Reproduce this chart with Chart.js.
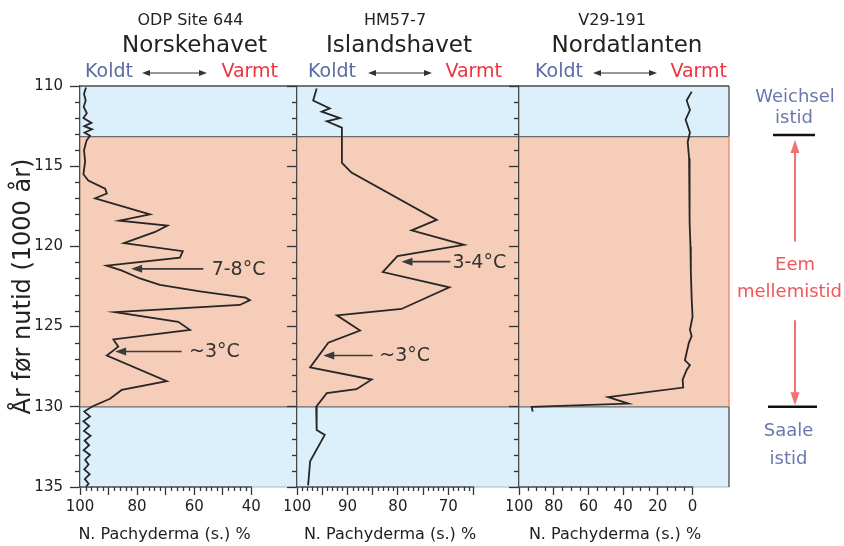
<!DOCTYPE html>
<html><head><meta charset="utf-8">
<script src="https://cdn.jsdelivr.net/npm/chart.js"></script>
<style>
html,body{margin:0;padding:0;background:#fff;width:844px;height:546px;overflow:hidden;position:relative}
canvas{position:absolute;top:0}
</style></head><body>
<canvas id="c1" width="300" height="546" style="left:0px"></canvas>
<canvas id="c2" width="237" height="546" style="left:285px"></canvas>
<canvas id="c3" width="337" height="546" style="left:507px"></canvas>
<script>
// ---------- data ----------
const siteNames = ['ODP Site 644', 'HM57-7', 'V29-191'];
const seaNames = ['Norskehavet', 'Islandshavet', 'Nordatlanten'];
const xTitle = 'N. Pachyderma (s.) %';
const ageTicks = [110, 115, 120, 125, 130, 135];
const stageEdges = [110, 113.15, 130, 135];

// ODP Site 644 – Norskehavet
const norAge = [110.1,110.5,110.9,111.3,111.7,112.0,112.3,112.5,112.7,112.9,113.1,113.4,114.0,114.7,115.5,115.9,116.4,116.7,117.0,118.0,118.4,118.7,119.1,119.8,120.3,120.7,121.2,121.5,122.0,122.4,122.8,123.2,123.35,123.65,124.1,124.7,125.2,125.8,126.25,126.8,128.4,128.95,129.5,130.0,130.3,130.6,130.9,131.2,131.5,131.8,132.1,132.4,132.7,133.0,133.3,133.6,133.9,134.2,134.5,134.8,135.0];
const norVal = [97.9,98.6,98.0,98.7,97.6,98.8,96.0,98.5,95.8,98.4,96.5,97.7,98.6,98.2,98.8,97.1,91.2,90.6,94.7,75.5,86.2,69.4,73.7,84.6,64.0,65.0,90.7,85.5,79.0,72.0,58.0,42.0,40.5,44.0,87.7,65.6,61.5,88.3,86.6,90.6,69.6,85.4,89.5,95.9,98.5,96.5,98.8,96.8,98.6,96.3,98.4,96.8,98.7,96.5,98.2,97.0,98.5,96.6,98.3,97.0,98.0];
const norTicks = [100, 80, 60, 40];

// HM57-7 – Islandshavet
const islAge = [110.15,110.9,111.4,111.6,112.0,112.2,112.6,113.15,114.8,115.4,118.35,119.0,119.9,120.6,121.6,122.55,123.9,124.3,125.25,126.0,127.55,128.3,128.9,129.15,130.0,131.45,131.75,133.4,134.9];
const islVal = [96.1,96.8,93.5,95.1,91.5,94.1,91.1,91.1,91.1,89.2,72.3,77.3,66.9,80.1,83.0,69.8,79.3,92.1,87.5,93.8,97.4,85.2,88.2,94.1,96.2,96.1,94.5,97.4,97.8];
const islTicks = [100, 90, 80, 70];

// V29-191 – Nordatlanten
const atlAge = [110.35,110.9,111.5,112.1,112.9,113.5,114.5,115.5,117.0,118.5,120.0,121.5,123.3,124.4,125.2,125.6,126.0,127.1,127.4,127.7,128.3,128.8,129.4,129.8,130.0,130.3];
const atlVal = [0.5,3.4,1.5,4.0,1.5,2.8,2.0,1.8,1.5,1.8,1.2,1.0,0.5,0.0,1.5,0.5,2.1,4.4,1.5,3.4,5.7,5.4,48.6,37.0,92.7,92.1];
const atlTicks = [100, 80, 60, 40, 20, 0];

// temperature notes (value / age of the arrows)
const norNotes = [
  {label: '7-8°C', age: 121.4, head: 82.1, tail: 56.8, text: 53.9},
  {label: '~3°C', age: 126.55, head: 87.7, tail: 64.4, text: 61.8}
];
const islNotes = [
  {label: '3-4°C', age: 120.95, head: 79.3, tail: 69.6, text: 69.2},
  {label: '~3°C', age: 126.8, head: 94.8, tail: 85.0, text: 83.7}
];

// ---------- styles ----------
const FONT = '"DejaVu Sans", sans-serif';
Chart.defaults.font.family = FONT;
Chart.defaults.color = '#222';
const bandColors = ['#dcf0fb', '#f6cdb8', '#dcf0fb'];
const frameColor = '#4a4a4a';
const tickCol = '#333';
const cold = '#5a6ca6', warm = '#ee3340';

const isMajor = (v, step) => Math.abs(v / step - Math.round(v / step)) < 1e-6;

const deco = {
  id: 'deco',
  beforeDraw(chart) {
    const {ctx, chartArea: a, scales: {y}} = chart;
    ctx.save();
    for (let i = 0; i < stageEdges.length - 1; i++) {
      const t = y.getPixelForValue(stageEdges[i]), b = y.getPixelForValue(stageEdges[i + 1]);
      ctx.fillStyle = bandColors[i];
      ctx.fillRect(a.left, t, a.right - a.left, b - t);
    }
    ctx.strokeStyle = '#6a6a6a'; ctx.lineWidth = 1.2;
    for (let i = 1; i < stageEdges.length - 1; i++) {
      const p = y.getPixelForValue(stageEdges[i]);
      ctx.beginPath(); ctx.moveTo(a.left, p); ctx.lineTo(a.right, p); ctx.stroke();
    }
    ctx.restore();
  },
  afterDraw(chart) {
    const cfg = panelCfg[chart.canvas.id];
    const {ctx, chartArea: a, scales: {x, y}} = chart;
    ctx.save();
    // bottom axis line only over the ticked range, faint edge beyond
    const xa = x.getPixelForValue(100), xb = x.getPixelForValue(cfg.tickEnd);
    ctx.strokeStyle = '#a8b6bf'; ctx.lineWidth = 1;
    ctx.beginPath(); ctx.moveTo(xb, a.bottom); ctx.lineTo(a.right, a.bottom); ctx.stroke();
    ctx.strokeStyle = frameColor; ctx.lineWidth = 1.3;
    ctx.beginPath(); ctx.moveTo(xa - 0.6, a.bottom); ctx.lineTo(xb + 0.6, a.bottom); ctx.stroke();
    // minor tick marks (short), on the library's own tick positions
    ctx.strokeStyle = tickCol; ctx.lineWidth = 1.3;
    y.ticks.forEach((t, i) => {
      if (ageTicks.includes(t.value)) return;
      const p = Math.round(y.getPixelForTick(i)) + 0.5;
      ctx.beginPath(); ctx.moveTo(y.right - 5, p); ctx.lineTo(y.right, p); ctx.stroke();
    });
    x.ticks.forEach((t, i) => {
      if (isMajor(t.value, cfg.majorStep)) return;
      const p = Math.round(x.getPixelForTick(i)) + 0.5;
      ctx.beginPath(); ctx.moveTo(p, x.top); ctx.lineTo(p, x.top + 4); ctx.stroke();
    });
    // x axis title
    ctx.fillStyle = '#222'; ctx.font = '16px ' + FONT; ctx.textAlign = 'center'; ctx.textBaseline = 'middle';
    ctx.fillText(xTitle, a.left + cfg.titleX, 535);
    // frame top and right
    ctx.lineWidth = 1.3; ctx.strokeStyle = frameColor;
    ctx.beginPath(); ctx.moveTo(a.left, a.top); ctx.lineTo(a.right, a.top); ctx.stroke();
    if (cfg.redEdge) {
      const p1 = y.getPixelForValue(stageEdges[1]), p2 = y.getPixelForValue(stageEdges[2]);
      ctx.beginPath(); ctx.moveTo(a.right, a.top); ctx.lineTo(a.right, p1); ctx.moveTo(a.right, p2); ctx.lineTo(a.right, a.bottom); ctx.stroke();
      ctx.strokeStyle = '#e9826e';
      ctx.beginPath(); ctx.moveTo(a.right, p1); ctx.lineTo(a.right, p2); ctx.stroke();
    } else {
      ctx.beginPath(); ctx.moveTo(a.right, a.top); ctx.lineTo(a.right, a.bottom); ctx.stroke();
    }
    // header
    const h = cfg.head;
    ctx.textBaseline = 'middle';
    ctx.fillStyle = '#222'; ctx.textAlign = 'center';
    ctx.font = '16px ' + FONT; ctx.fillText(h.site, a.left + h.siteX, 21);
    ctx.font = '23px ' + FONT; ctx.fillText(h.sea, a.left + h.seaX, 46);
    ctx.font = '19px ' + FONT;
    ctx.textAlign = 'left'; ctx.fillStyle = cold; ctx.fillText('Koldt', a.left + h.kx, 72);
    ctx.textAlign = 'right'; ctx.fillStyle = warm; ctx.fillText('Varmt', a.left + h.vx, 72);
    const ax0 = a.left + h.ax0, ax1 = a.left + h.ax1, ay = 73;
    ctx.strokeStyle = '#333'; ctx.fillStyle = '#333'; ctx.lineWidth = 1;
    ctx.beginPath(); ctx.moveTo(ax0 + 4, ay); ctx.lineTo(ax1 - 4, ay); ctx.stroke();
    ctx.beginPath(); ctx.moveTo(ax0, ay); ctx.lineTo(ax0 + 8, ay - 3); ctx.lineTo(ax0 + 8, ay + 3); ctx.closePath(); ctx.fill();
    ctx.beginPath(); ctx.moveTo(ax1, ay); ctx.lineTo(ax1 - 8, ay - 3); ctx.lineTo(ax1 - 8, ay + 3); ctx.closePath(); ctx.fill();
    // notes
    (cfg.notes || []).forEach(n => {
      const py = y.getPixelForValue(n.age);
      const hx = x.getPixelForValue(n.head), tx = x.getPixelForValue(n.tail);
      ctx.strokeStyle = '#3a3a3a'; ctx.fillStyle = '#3a3a3a'; ctx.lineWidth = 1.6;
      ctx.beginPath(); ctx.moveTo(hx + 8, py); ctx.lineTo(tx, py); ctx.stroke();
      ctx.beginPath(); ctx.moveTo(hx, py); ctx.lineTo(hx + 11, py - 4); ctx.lineTo(hx + 11, py + 4); ctx.closePath(); ctx.fill();
      ctx.fillStyle = '#333'; ctx.font = '19px ' + FONT; ctx.textAlign = 'left';
      ctx.fillText(n.label, x.getPixelForValue(n.text), py + 1);
    });
    // stage labels on the right
    if (cfg.side) {
      const r = a.right;
      const t1 = y.getPixelForValue(stageEdges[1]), t2 = y.getPixelForValue(stageEdges[2]);
      ctx.font = '18px ' + FONT; ctx.textAlign = 'center';
      ctx.fillStyle = '#6a78ad';
      ctx.fillText('Weichsel', r + 66, y.getPixelForValue(110.7));
      ctx.fillText('istid', r + 65, y.getPixelForValue(112.0));
      ctx.fillText('Saale', r + 59.5, y.getPixelForValue(131.5));
      ctx.fillText('istid', r + 59.5, y.getPixelForValue(133.3));
      ctx.fillStyle = '#f0565a';
      ctx.fillText('Eem', r + 66, y.getPixelForValue(121.2));
      ctx.fillText('mellemistid', r + 60.5, y.getPixelForValue(122.85));
      ctx.strokeStyle = '#111'; ctx.lineWidth = 2.5;
      ctx.beginPath(); ctx.moveTo(r + 44, t1 - 1.5); ctx.lineTo(r + 86, t1 - 1.5); ctx.stroke();
      ctx.beginPath(); ctx.moveTo(r + 39, t2); ctx.lineTo(r + 88, t2); ctx.stroke();
      const axx = r + 66;
      ctx.strokeStyle = '#f07272'; ctx.fillStyle = '#f07272'; ctx.lineWidth = 2;
      const up0 = y.getPixelForValue(119.7), upTip = y.getPixelForValue(113.37);
      ctx.beginPath(); ctx.moveTo(axx, up0); ctx.lineTo(axx, upTip + 10); ctx.stroke();
      ctx.beginPath(); ctx.moveTo(axx, upTip); ctx.lineTo(axx - 4.5, upTip + 13); ctx.lineTo(axx + 4.5, upTip + 13); ctx.closePath(); ctx.fill();
      const dn0 = y.getPixelForValue(124.6), dnTip = y.getPixelForValue(129.9);
      ctx.beginPath(); ctx.moveTo(axx, dn0); ctx.lineTo(axx, dnTip - 10); ctx.stroke();
      ctx.beginPath(); ctx.moveTo(axx, dnTip); ctx.lineTo(axx - 4.5, dnTip - 13); ctx.lineTo(axx + 4.5, dnTip - 13); ctx.closePath(); ctx.fill();
    }
    ctx.restore();
  }
};

const panelCfg = {
  c1: {head: {site: siteNames[0], sea: seaNames[0], siteX: 110.5, seaX: 114.5, kx: 5, vx: 198, ax0: 62, ax1: 127}, notes: norNotes, titleX: 84.5, tickEnd: 40, majorStep: 10},
  c2: {head: {site: siteNames[1], sea: seaNames[1], siteX: 98, seaX: 102, kx: 11, vx: 205, ax0: 71, ax1: 135}, notes: islNotes, titleX: 93, tickEnd: 65, majorStep: 5},
  c3: {head: {site: siteNames[2], sea: seaNames[2], siteX: 93, seaX: 108, kx: 16, vx: 208, ax0: 74, ax1: 138}, side: true, redEdge: true, titleX: 96, tickEnd: 0, majorStep: 20}
};

function makePanel(id, ages, vals, o) {
  const pts = ages.map((a, i) => ({x: vals[i], y: a}));
  const c = panelCfg[id];
  new Chart(document.getElementById(id), {
    type: 'scatter',
    data: {datasets: [{data: pts, showLine: true, borderColor: '#262626', borderWidth: 1.8, pointRadius: 0, tension: 0, fill: false}]},
    plugins: [deco],
    options: {
      responsive: false, animation: false, events: [],
      layout: {padding: {top: 86, left: 0, right: o.padRight, bottom: 0}},
      plugins: {legend: {display: false}, tooltip: {enabled: false}},
      scales: {
        x: {
          type: 'linear', position: 'bottom', reverse: true, min: o.xMin, max: 100,
          afterBuildTicks: s => { s.ticks = s.ticks.filter(t => t.value >= c.tickEnd - 1e-9); },
          ticks: {stepSize: o.step, autoSkip: false, maxRotation: 0, minRotation: 0, padding: 3, font: {size: 15}, color: '#222',
            callback: v => o.labels.includes(v) ? String(v) : ''},
          grid: {drawOnChartArea: false, drawTicks: true, tickLength: 8, tickWidth: 1.3,
            tickColor: k => (k.tick && isMajor(k.tick.value, c.majorStep)) ? tickCol : 'rgba(0,0,0,0)'},
          border: {display: false},
          title: {display: false, text: xTitle},
          afterFit: s => { s.height = 59; s.paddingLeft = 0; s.paddingRight = 0; }
        },
        y: {
          type: 'linear', position: 'left', reverse: true, min: 110, max: 135,
          ticks: {stepSize: 1, autoSkip: false, padding: 7, font: {size: 15}, color: '#222',
            callback: v => (o.yLabels && ageTicks.includes(v)) ? String(v) : ''},
          grid: {drawOnChartArea: false, drawTicks: true, tickLength: 10, tickWidth: 1.3,
            tickColor: k => (k.tick && ageTicks.includes(k.tick.value)) ? tickCol : 'rgba(0,0,0,0)'},
          border: {display: true, color: frameColor, width: 1.3},
          title: {display: !!o.yLabels, text: 'År før nutid (1000 år)', color: '#222', font: {size: 24}, padding: {top: 9, bottom: 0}},
          afterFit: s => { s.width = o.yWidth; s.paddingTop = 0; s.paddingBottom = 0; }
        }
      }
    }
  });
}

makePanel('c1', norAge, norVal, {xMin: 24, step: 2, labels: norTicks, padRight: 3, yWidth: 80, yLabels: true});
makePanel('c2', islAge, islVal, {xMin: 56, step: 1, labels: islTicks, padRight: 3, yWidth: 12, yLabels: false});
makePanel('c3', atlAge, atlVal, {xMin: -21, step: 5, labels: atlTicks, padRight: 115, yWidth: 12, yLabels: false});
</script>
</body></html>
